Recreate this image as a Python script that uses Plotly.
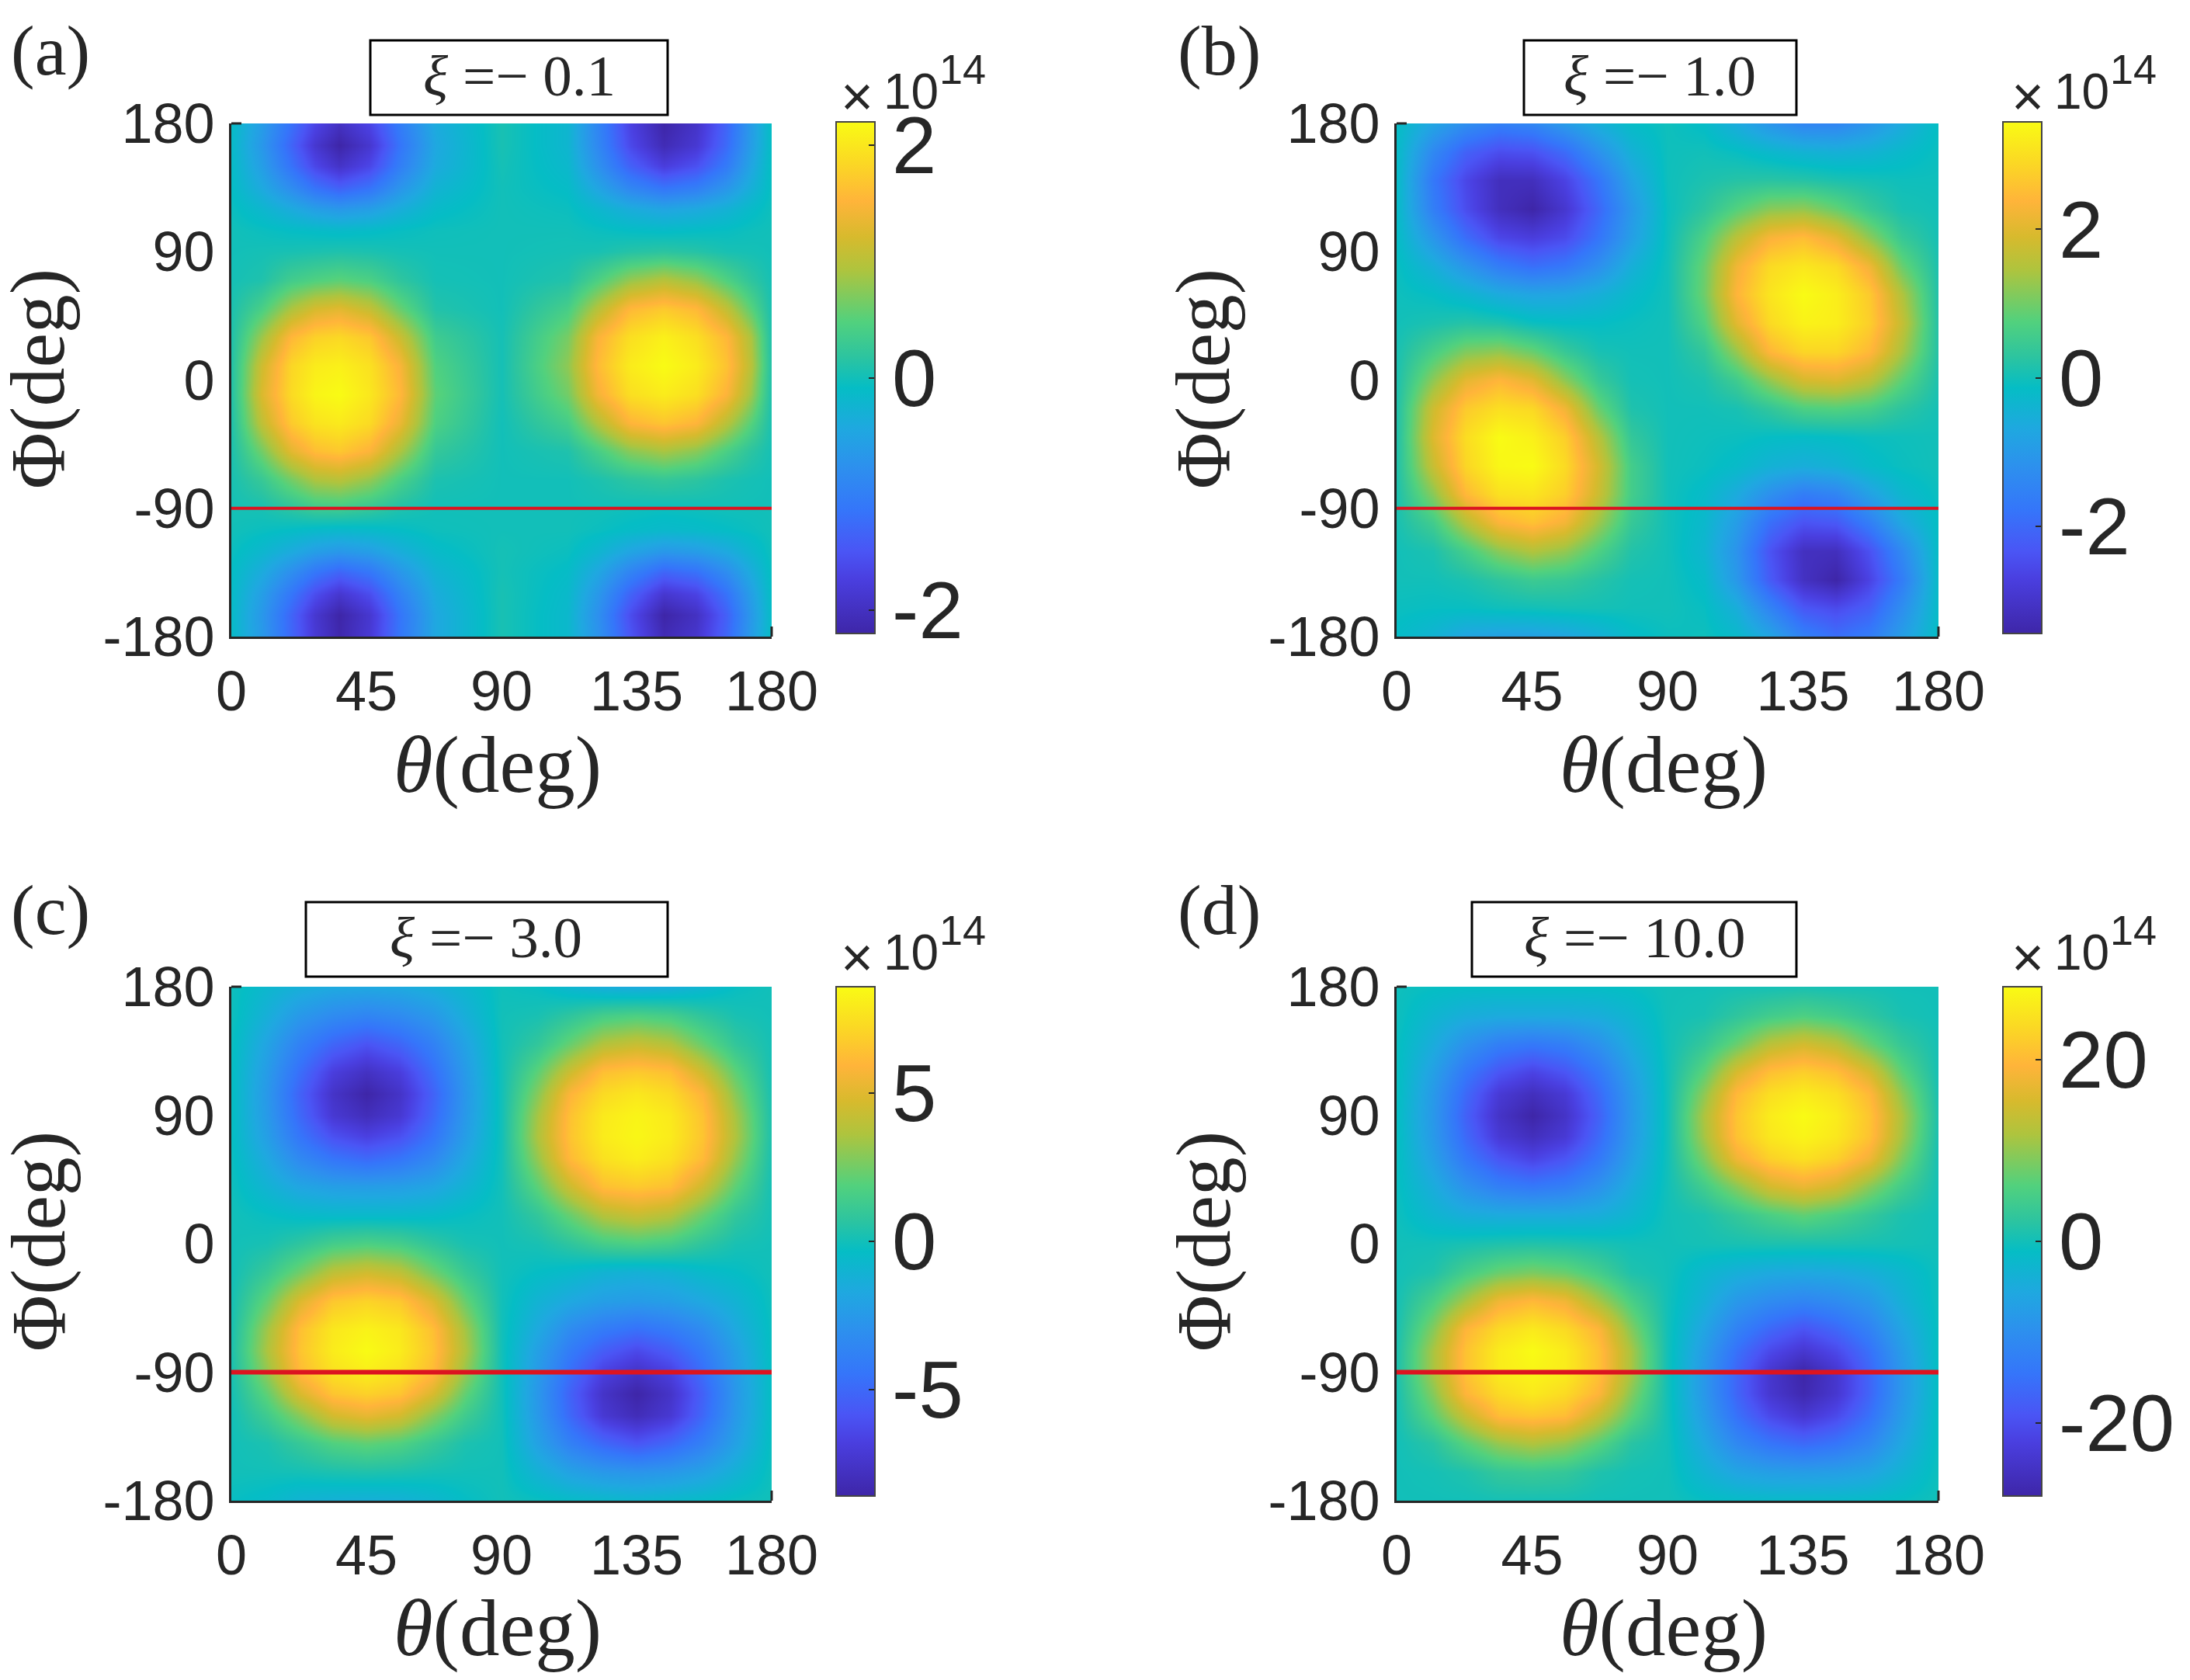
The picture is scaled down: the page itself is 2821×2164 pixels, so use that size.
import numpy as np
import plotly.graph_objects as go
from plotly.subplots import make_subplots

# page has an 8px body margin, so the figure is 16px smaller than the window
page_w = 2805
page_h = 2148

def fx(px):
    return (px - 8) / page_w

def fy(py):
    return 1 - (py - 8) / page_h

phi_ticks = [-180, -90, 0, 90, 180]
theta_ticks = [0, 45, 90, 135, 180]

# parula-like colormap as seen on the colorbars
parula = [
    [0.0, '#3e26a8'], [0.107, '#4a3fe0'], [0.16, '#4a55f5'], [0.24, '#3575fa'],
    [0.325, '#2d90ee'], [0.40, '#1fa8e0'], [0.48, '#05bdc5'], [0.54, '#2cc4a0'],
    [0.61, '#52d17d'], [0.71, '#aec43e'], [0.775, '#d7ba2d'], [0.845, '#ffb43a'],
    [0.92, '#fbd824'], [1.0, '#f9fb14'],
]

peak_a = 2.2
theta_a = [0, 10, 20, 28, 36, 46, 56, 68, 90, 112, 122, 133, 144, 155, 165, 173, 180]
phi_a = [-180, -165, -150, -135, -120, -105, -90, -70, -50, -30, -10, 10, 30, 50, 70, 90, 105, 120, 135, 150, 165, 180]
level_a = [
    [-6, -29, -59, -83, -98, -83, -51, -20, 2, -8, -33, -68, -95, -86, -59, -28, -4],
    [-6, -30, -60, -85, -100, -85, -52, -20, 2, -8, -35, -72, -100, -90, -62, -30, -4],
    [-5, -26, -51, -72, -85, -72, -44, -17, 2, -7, -30, -61, -85, -77, -53, -26, -3],
    [-4, -18, -36, -51, -60, -51, -31, -12, 1, -5, -21, -43, -60, -54, -37, -18, -2],
    [-2, -9, -18, -26, -30, -26, -16, -6, 1, -2, -10, -22, -30, -27, -19, -9, -1],
    [0, -2, -4, -6, -7, -6, -4, -1, 0, 0, -2, -5, -7, -6, -4, -2, 0],
    [1, 2, 8, 14, 15, 11, 4, 0, 0, 0, 0, -1, -2, -1, 0, 0, 0],
    [2, 12, 29, 42, 45, 36, 19, 3, 0, 0, 3, 8, 11, 8, 3, 1, 0],
    [3, 29, 59, 73, 77, 68, 42, 11, 0, 4, 18, 34, 41, 34, 19, 8, 1],
    [4, 47, 78, 89, 92, 85, 62, 20, 0, 17, 43, 69, 76, 69, 45, 23, 2],
    [5, 56, 85, 97, 100, 91, 71, 24, 1, 29, 65, 87, 93, 87, 68, 39, 3],
    [5, 52, 83, 93, 95, 88, 67, 21, 1, 35, 72, 93, 100, 93, 75, 46, 4],
    [4, 38, 70, 81, 84, 77, 51, 15, 1, 30, 67, 87, 95, 87, 70, 42, 3],
    [3, 19, 42, 55, 59, 49, 27, 5, 0, 18, 45, 71, 78, 71, 48, 24, 2],
    [1, 4, 16, 21, 24, 20, 9, 1, 0, 5, 20, 37, 45, 37, 21, 9, 1],
    [0, 1, 2, 3, 4, 3, 1, 0, 0, 1, 2, 6, 8, 6, 2, 1, 0],
    [0, -2, -4, -5, -6, -5, -3, -1, 0, 0, -2, -4, -5, -4, -3, -1, 0],
    [-2, -9, -18, -26, -30, -26, -16, -6, 0, -2, -9, -17, -22, -19, -13, -6, -1],
    [-4, -19, -37, -53, -62, -53, -32, -12, 0, -5, -22, -41, -52, -46, -31, -15, -2],
    [-5, -26, -53, -75, -88, -75, -46, -18, 1, -8, -34, -62, -80, -70, -48, -22, -2],
    [-6, -30, -60, -85, -100, -85, -52, -20, 2, -10, -40, -74, -95, -84, -57, -27, -3],
    [-5, -27, -54, -76, -90, -76, -47, -18, 2, -10, -42, -78, -100, -88, -60, -28, -3],
]

peak_b = 3.45
theta_b = [0, 12, 23, 34, 45, 56, 67, 78, 90, 102, 113, 124, 135, 146, 157, 168, 180]
phi_b = [-180, -160, -140, -120, -100, -80, -60, -40, -20, 0, 20, 40, 60, 80, 100, 120, 140, 160, 180]
level_b = [
    [-5, -12, -22, -25, -25, -22, -15, -6, -2, -1, -7, -22, -44, -55, -47, -26, -4],
    [-2, -3, -3, -1, 0, 1, 1, 0, 0, -3, -16, -43, -67, -73, -63, -36, -5],
    [0, 0, 3, 9, 14, 12, 6, 1, 0, -6, -30, -65, -90, -100, -77, -47, -5],
    [0, 3, 17, 34, 43, 36, 20, 5, 0, -10, -33, -69, -91, -92, -70, -39, -4],
    [2, 16, 44, 68, 75, 65, 38, 12, 0, -8, -27, -55, -69, -66, -46, -20, -3],
    [3, 34, 71, 88, 90, 80, 51, 17, 0, -6, -18, -35, -47, -42, -24, -9, -2],
    [4, 50, 83, 98, 100, 85, 54, 17, 0, -2, -6, -13, -16, -13, -6, -2, 0],
    [4, 57, 86, 100, 95, 80, 45, 11, 0, -1, -2, -4, -5, -4, -2, -1, 0],
    [4, 52, 78, 87, 84, 64, 27, 4, 0, 0, 2, 10, 20, 22, 18, 8, 1],
    [3, 35, 60, 70, 60, 35, 12, 1, 0, 3, 15, 36, 54, 57, 46, 24, 3],
    [2, 18, 32, 36, 27, 12, 2, 0, 0, 10, 37, 70, 83, 83, 71, 41, 5],
    [0, 3, 6, 4, -2, -4, -4, -2, 0, 21, 59, 85, 96, 94, 80, 49, 5],
    [-1, -4, -10, -18, -22, -21, -15, -7, 0, 28, 69, 90, 100, 94, 78, 43, 4],
    [-2, -15, -31, -47, -55, -50, -35, -15, 0, 27, 64, 85, 91, 85, 64, 27, 3],
    [-4, -31, -56, -75, -80, -73, -52, -26, -1, 20, 46, 67, 73, 60, 35, 12, 1],
    [-5, -46, -72, -92, -100, -85, -59, -30, -2, 8, 22, 34, 36, 26, 12, 2, 0],
    [-5, -50, -75, -92, -92, -77, -52, -23, -1, 3, 6, 7, 6, 3, 1, -1, -1],
    [-5, -40, -62, -72, -70, -57, -34, -14, -1, 0, -3, -8, -12, -14, -12, -7, -2],
    [-4, -22, -36, -45, -41, -28, -15, -5, -1, -5, -18, -32, -42, -42, -32, -18, -3],
]

peak_c = 8.6
theta_c = [0, 12, 23, 34, 45, 56, 67, 78, 90, 102, 113, 124, 135, 146, 157, 168, 180]
phi_c = [-180, -160, -140, -120, -105, -90, -75, -60, -40, -20, 0, 20, 40, 60, 75, 90, 105, 120, 140, 160, 180]
level_c = [
    [-3, -6, -12, -14, -15, -14, -10, -4, 0, -2, -5, -7, -9, -7, -5, -2, 0],
    [0, 0, 1, 3, 4, 3, 1, 0, 0, -13, -24, -30, -32, -30, -24, -13, -1],
    [0, 3, 12, 21, 25, 21, 12, 3, 0, -24, -45, -59, -68, -59, -45, -24, -2],
    [0, 15, 34, 54, 61, 54, 34, 15, 0, -29, -59, -84, -94, -84, -59, -29, -3],
    [1, 25, 56, 76, 81, 76, 56, 25, 0, -30, -62, -88, -100, -88, -62, -30, -3],
    [2, 36, 72, 88, 94, 88, 72, 36, 0, -28, -56, -79, -89, -79, -56, -28, -3],
    [3, 42, 76, 93, 100, 93, 76, 42, 0, -25, -48, -64, -74, -64, -48, -25, -2],
    [2, 39, 74, 91, 96, 91, 74, 39, 0, -19, -38, -48, -54, -48, -38, -19, -2],
    [1, 26, 57, 77, 82, 77, 57, 26, 0, -12, -20, -26, -28, -26, -20, -12, -1],
    [0, 12, 29, 47, 53, 47, 29, 12, 0, -4, -7, -12, -14, -12, -7, -4, 0],
    [0, 2, 9, 17, 20, 17, 9, 2, 0, 2, 9, 17, 20, 17, 9, 2, 0],
    [0, -3, -6, -7, -7, -7, -6, -3, 0, 10, 27, 44, 50, 44, 27, 10, 1],
    [-1, -12, -22, -26, -27, -26, -22, -12, 0, 24, 52, 74, 78, 74, 52, 24, 1],
    [-2, -20, -40, -52, -58, -52, -40, -20, 0, 36, 72, 88, 94, 88, 72, 36, 2],
    [-3, -26, -52, -70, -78, -70, -52, -26, 0, 42, 76, 93, 98, 93, 76, 42, 3],
    [-3, -29, -59, -84, -93, -84, -59, -29, 0, 40, 75, 92, 97, 92, 75, 40, 3],
    [-3, -30, -62, -88, -100, -88, -62, -30, 0, 33, 69, 85, 91, 85, 69, 33, 2],
    [-3, -28, -56, -80, -90, -80, -56, -28, 0, 24, 52, 74, 78, 74, 52, 24, 1],
    [-2, -23, -45, -60, -69, -60, -45, -23, 0, 10, 27, 44, 50, 44, 27, 10, 1],
    [-1, -15, -30, -38, -42, -38, -30, -15, 0, 2, 9, 17, 20, 17, 9, 2, 0],
    [-1, -9, -15, -19, -20, -19, -15, -9, -1, -3, -10, -16, -18, -16, -10, -3, 0],
]

peak_d = 28
theta_d = [0, 12, 23, 34, 45, 56, 67, 78, 90, 102, 113, 124, 135, 146, 157, 168, 180]
phi_d = [-180, -160, -140, -120, -105, -90, -75, -60, -40, -20, 0, 20, 40, 60, 75, 90, 105, 120, 140, 160, 180]
level_d = [
    [0, 0, 0, 1, 1, 1, 0, 0, 0, -3, -5, -6, -6, -6, -5, -3, 0],
    [0, 1, 4, 11, 13, 11, 4, 1, 0, -12, -22, -26, -27, -26, -22, -12, -1],
    [0, 7, 23, 37, 43, 37, 23, 7, 0, -20, -40, -52, -58, -52, -40, -20, -2],
    [1, 24, 50, 73, 77, 73, 50, 24, 0, -27, -54, -74, -85, -74, -54, -27, -2],
    [2, 33, 69, 85, 92, 85, 69, 33, 0, -30, -60, -85, -97, -85, -60, -30, -3],
    [3, 41, 75, 93, 97, 93, 75, 41, 0, -30, -60, -86, -100, -86, -60, -30, -3],
    [3, 41, 75, 93, 100, 93, 75, 41, 0, -27, -54, -74, -85, -74, -54, -27, -2],
    [2, 33, 69, 85, 92, 85, 69, 33, 0, -22, -44, -59, -69, -59, -44, -22, -2],
    [1, 19, 41, 64, 71, 64, 41, 19, 0, -14, -30, -38, -42, -38, -30, -14, -1],
    [0, 4, 17, 27, 31, 27, 17, 4, 0, -9, -15, -19, -20, -19, -15, -9, -1],
    [0, 0, 2, 4, 5, 4, 2, 0, 0, 1, 2, 3, 3, 3, 2, 1, 0],
    [-1, -10, -16, -18, -18, -18, -16, -10, 0, 3, 11, 19, 25, 19, 11, 3, 0],
    [-2, -17, -34, -46, -50, -46, -34, -17, 0, 16, 34, 54, 62, 54, 34, 16, 1],
    [-2, -25, -50, -68, -77, -68, -50, -25, 0, 31, 64, 81, 88, 81, 64, 31, 1],
    [-2, -29, -58, -83, -92, -83, -58, -29, 0, 40, 75, 91, 97, 91, 75, 40, 2],
    [-3, -30, -62, -88, -100, -88, -62, -30, 0, 42, 76, 93, 100, 93, 76, 42, 3],
    [-2, -29, -58, -83, -92, -83, -58, -29, 0, 35, 71, 87, 93, 87, 71, 35, 2],
    [-2, -25, -50, -68, -77, -68, -50, -25, 0, 24, 55, 74, 80, 74, 55, 24, 1],
    [-2, -17, -34, -46, -50, -46, -34, -17, 0, 11, 27, 46, 54, 46, 27, 11, 1],
    [-1, -10, -16, -18, -18, -18, -16, -10, 0, 2, 9, 16, 20, 16, 9, 2, 0],
    [-1, -3, -4, -4, -4, -4, -4, -3, 0, 0, 1, 1, 2, 1, 1, 0, 0],
]

# red cut at Phi = -90
cut_theta = [0, 180]
cut_phi = [-90, -90]

cbar_ticks_a = [-2, 0, 2]
cbar_ticks_b = [-2, 0, 2]
cbar_ticks_c = [-5, 0, 5]
cbar_ticks_d = [-20, 0, 20]

panels = [
    dict(tag='(a)', val='0.1', theta=theta_a, phi=phi_a, level=level_a, peak=peak_a, cb=cbar_ticks_a,
         row=1, col=1, box=(477, 860), text_x=669),
    dict(tag='(b)', val='1.0', theta=theta_b, phi=phi_b, level=level_b, peak=peak_b, cb=cbar_ticks_b,
         row=1, col=2, box=(1963, 2314), text_x=2138),
    dict(tag='(c)', val='3.0', theta=theta_c, phi=phi_c, level=level_c, peak=peak_c, cb=cbar_ticks_c,
         row=2, col=1, box=(394, 860), text_x=626),
    dict(tag='(d)', val='10.0', theta=theta_d, phi=phi_d, level=level_d, peak=peak_d, cb=cbar_ticks_d,
         row=2, col=2, box=(1896, 2314), text_x=2105),
]

fig = make_subplots(rows=2, cols=2)
sans = 'Liberation Sans'
serif = 'Liberation Serif'
ink = '#262626'
annos = []
shapes = []

def label(text, px, py, size, font=serif, angle=0):
    annos.append(dict(text=text, x=fx(px), y=fy(py), xref='paper', yref='paper', showarrow=False,
                      xanchor='center', yanchor='middle', textangle=angle,
                      font=dict(family=font, size=size, color=ink)))

for p in panels:
    second_col = p['col'] == 2
    second_row = p['row'] == 2
    dy = 1110 if second_row else 0
    left, right = (1799, 2497) if second_col else (298, 994)
    top, bottom = (1271, 1933) if second_row else (159, 820)
    cb_top, cb_bottom = (1271, 1927) if second_row else (157, 816)
    cb_x = 2580 if second_col else 1077

    z = np.array(p['level']) / 100 * p['peak']
    fig.add_trace(go.Heatmap(
        x=p['theta'], y=p['phi'], z=z, zsmooth='best',
        zmin=-p['peak'], zmax=p['peak'], colorscale=parula,
        colorbar=dict(
            x=fx(cb_x), xanchor='left', xpad=0, ypad=0,
            y=fy((cb_top + cb_bottom) / 2), yanchor='middle',
            thickness=50, lenmode='fraction', len=(cb_bottom - cb_top) / page_h,
            tickvals=p['cb'], ticktext=[str(v) for v in p['cb']],
            ticks='inside', ticklen=9, tickwidth=2, tickcolor=ink,
            outlinecolor='#444444', outlinewidth=2,
            tickfont=dict(family=sans, size=103, color=ink),
        ),
    ), row=p['row'], col=p['col'])
    fig.add_trace(go.Scatter(
        x=cut_theta, y=cut_phi, mode='lines',
        line=dict(color='#dc1420', width=6 if second_row else 4), showlegend=False,
    ), row=p['row'], col=p['col'])

    fig.update_xaxes(
        domain=[fx(left), fx(right)], range=[0, 180], tickmode='array', automargin=False,
        tickvals=theta_ticks, ticktext=[str(v) for v in theta_ticks],
        ticks='', ticklabelstandoff=6, showgrid=False, zeroline=False,
        showline=True, linecolor=ink, linewidth=3,
        tickfont=dict(family=sans, size=72, color=ink),
        row=p['row'], col=p['col'],
    )
    fig.update_yaxes(
        domain=[fy(bottom), fy(top)], range=[-180, 180], tickmode='array', automargin=False,
        tickvals=phi_ticks, ticktext=[str(v) for v in phi_ticks],
        ticks='', ticklabelstandoff=4, showgrid=False, zeroline=False,
        showline=True, linecolor=ink, linewidth=3,
        tickfont=dict(family=sans, size=72, color=ink),
        row=p['row'], col=p['col'],
    )

    # corner ticks, the only ones the image does not hide
    shapes.append(dict(type='line', xref='paper', yref='paper', x0=fx(left), x1=fx(left + 13),
                       y0=fy(top), y1=fy(top), line=dict(color=ink, width=3)))
    shapes.append(dict(type='line', xref='paper', yref='paper', x0=fx(right), x1=fx(right),
                       y0=fy(bottom), y1=fy(bottom - 13), line=dict(color=ink, width=3)))

    # boxed xi label
    box_top, box_bottom = 52 + dy, 148 + dy
    shapes.append(dict(type='rect', xref='paper', yref='paper', x0=fx(p['box'][0]), x1=fx(p['box'][1]),
                       y0=fy(box_bottom), y1=fy(box_top), line=dict(color='black', width=3),
                       fillcolor='white'))

    label('<i>\u03be</i> =\u2212 ' + p['val'], p['text_x'], 97 + dy, 75)
    label(p['tag'], 65 + (1505 if second_col else 0), 65 + (1107 if second_row else 0), 92)
    label('<i>\u03b8</i>(deg)', 641 + (1502 if second_col else 0), 985 + (1112 if second_row else 0), 103)
    label('\u03a6(deg)', 49 + (1501 if second_col else 0), 488 + (1111 if second_row else 0), 100, angle=-90)
    cx = 1504 if second_col else -4
    cy = 1109 if second_row else 0
    label('\u00d7', 1108 + cx, 124 + cy, 72, font=sans)
    label('10', 1177 + cx, 118 + cy, 64, font=sans)
    label('14', 1244 + cx, 89 + cy, 54, font=sans)

fig.update_layout(
    width=page_w, height=page_h, margin=dict(l=0, r=0, t=0, b=0),
    paper_bgcolor='white', plot_bgcolor='white', showlegend=False,
    annotations=annos, shapes=shapes,
)

fig.write_html("out.html")
